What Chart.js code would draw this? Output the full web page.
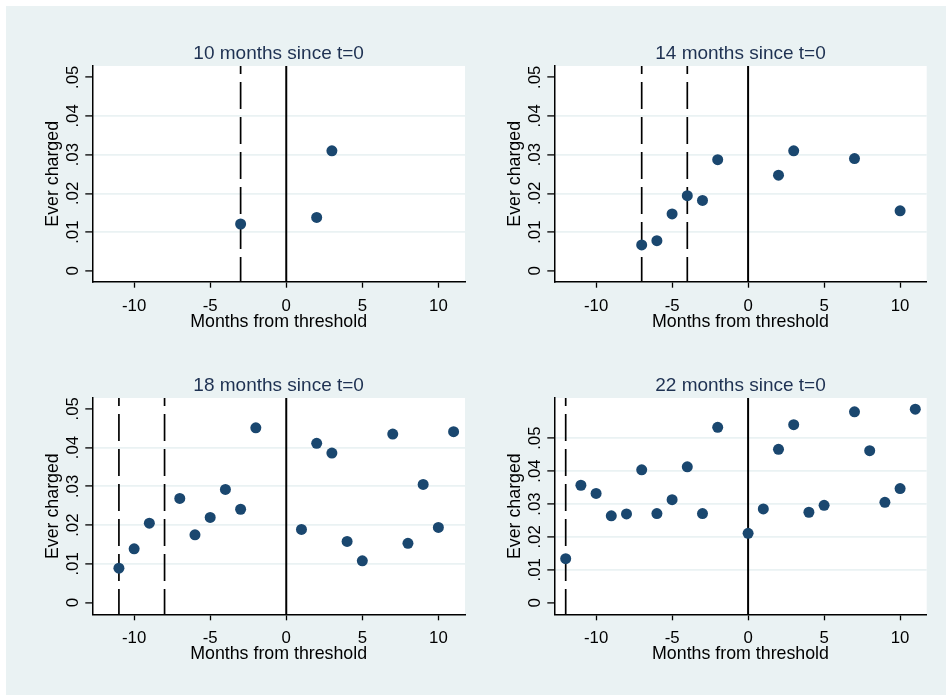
<!DOCTYPE html>
<html lang="en">
<head>
    <meta charset="UTF-8">
    <title>Ever charged by months from threshold</title>
    <script src="https://cdn.jsdelivr.net/npm/chart.js@4.4.1/dist/chart.umd.min.js"></script>
    <style>
        body {
            margin: 0;
            background-color: #fff;
            font-family: "Liberation Sans", Arial, sans-serif;
        }
        .bg {
            position: absolute;
            left: 6px;
            top: 6px;
            width: 940px;
            height: 689px;
            background-color: #eaf2f3;
        }
        .panel {
            position: absolute;
        }
    </style>
    <script>
        // tick values and labels shared by all four panels
        const xTicks = [-10, -5, 0, 5, 10];
        const yTicks = [0, 0.01, 0.02, 0.03, 0.04, 0.05];
        const yTickLabels = ['0', '.01', '.02', '.03', '.04', '.05'];
        const xTitle = 'Months from threshold';
        const yTitle = 'Ever charged';

        // 10 months since t=0
        const months10 = [-3, 2, 3];
        const ever10 = [0.0121, 0.0138, 0.0310];
        const dashed10 = [-3];

        // 14 months since t=0
        const months14 = [-7, -6, -5, -4, -3, -2, 2, 3, 7, 10];
        const ever14 = [0.0067, 0.0078, 0.0147, 0.0194, 0.0182, 0.0287, 0.0247, 0.0310, 0.0290, 0.0155];
        const dashed14 = [-7, -4];

        // 18 months since t=0
        const months18 = [-11, -10, -9, -7, -6, -5, -4, -3, -2, 1, 2, 3, 4, 5, 7, 8, 9, 10, 11];
        const ever18 = [0.0089, 0.0139, 0.0205, 0.0269, 0.0175, 0.0220, 0.0292, 0.0241, 0.0451,
                        0.0189, 0.0411, 0.0386, 0.0158, 0.0108, 0.0435, 0.0153, 0.0305, 0.0194, 0.0441];
        const dashed18 = [-11, -8];

        // 22 months since t=0
        const months22 = [-12, -11, -10, -9, -8, -7, -6, -5, -4, -3, -2, 0, 1, 2, 3, 4, 5, 7, 8, 9, 10, 11];
        const ever22 = [0.0134, 0.0357, 0.0332, 0.0264, 0.0270, 0.0404, 0.0271, 0.0313, 0.0413, 0.0271, 0.0533,
                        0.0211, 0.0285, 0.0466, 0.0541, 0.0275, 0.0296, 0.0580, 0.0462, 0.0305, 0.0347, 0.0588];
        const dashed22 = [-12];
    </script>
</head>
<body>
    <div class="bg"></div>
    <div class="panel" style="left:6px;top:6px;width:470px;height:340px"><canvas id="c10"></canvas></div>
    <div class="panel" style="left:476px;top:6px;width:470px;height:340px"><canvas id="c14"></canvas></div>
    <div class="panel" style="left:6px;top:346px;width:470px;height:349px"><canvas id="c18"></canvas></div>
    <div class="panel" style="left:476px;top:346px;width:470px;height:349px"><canvas id="c22"></canvas></div>

    <script>
        const FONT = '"Liberation Sans", Arial, sans-serif';
        const markerColor = '#1a476f';
        const titleColor = '#1e3152';

        // draws white plot region, titles and stata style rotated y labels
        const stataText = {
            id: 'stataText',
            beforeDraw(chart) {
                const a = chart.chartArea;
                const ctx = chart.ctx;
                ctx.save();
                ctx.fillStyle = '#fff';
                ctx.fillRect(a.left, a.top, a.right - a.left, a.bottom - a.top);
                ctx.restore();
            },
            afterDraw(chart, args, opts) {
                const a = chart.chartArea;
                const ctx = chart.ctx;
                const xs = chart.scales.x;
                const ys = chart.scales.y;
                const cx = (a.left + a.right) / 2;
                const cy = (a.top + a.bottom) / 2;
                ctx.save();

                // panel title
                ctx.fillStyle = titleColor;
                ctx.font = '19px ' + FONT;
                ctx.textAlign = 'center';
                ctx.textBaseline = 'alphabetic';
                ctx.fillText(opts.title, cx, a.top - 7.5);

                // x tick labels and title
                ctx.fillStyle = '#000';
                ctx.font = '16.8px ' + FONT;
                xTicks.forEach(v => {
                    ctx.fillText(String(v).replace('-', '-'), xs.getPixelForValue(v), a.bottom + 29);
                });
                ctx.font = '17.8px ' + FONT;
                ctx.fillText(xTitle, cx, a.bottom + 45);

                // y tick labels, rotated
                ctx.font = '16.8px ' + FONT;
                yTicks.forEach((v, i) => {
                    ctx.save();
                    ctx.translate(a.left - 14, ys.getPixelForValue(v));
                    ctx.rotate(-Math.PI / 2);
                    ctx.fillText(yTickLabels[i], 0, 0);
                    ctx.restore();
                });

                // y title
                ctx.font = '17.8px ' + FONT;
                ctx.translate(a.left - 34.3, cy);
                ctx.rotate(-Math.PI / 2);
                ctx.fillText(yTitle, 0, 0);
                ctx.restore();
            }
        };

        function vline(x, yMin, yMax, dashed) {
            return {
                data: [{x: x, y: yMax}, {x: x, y: yMin}],
                showLine: true,
                borderColor: '#000',
                borderWidth: dashed ? 1.7 : 2,
                borderDash: dashed ? [27, 8] : [],
                borderDashOffset: dashed ? 19 : 0,
                pointRadius: 0,
                fill: false
            };
        }

        function drawPanel(p) {
            const points = p.months.map((m, i) => ({x: m, y: p.values[i]}));
            const datasets = [{
                data: points,
                pointRadius: 5.5,
                pointBackgroundColor: markerColor,
                pointBorderWidth: 0
            }];
            p.dashed.forEach(d => datasets.push(vline(d, p.yMin, p.yMax, true)));
            datasets.push(vline(0, p.yMin, p.yMax, false));

            new Chart(document.getElementById(p.id), {
                type: 'scatter',
                data: {datasets: datasets},
                options: {
                    responsive: true,
                    maintainAspectRatio: false,
                    animation: false,
                    events: [],
                    layout: {
                        padding: {top: p.padTop, right: p.padRight, left: 0, bottom: 0}
                    },
                    plugins: {
                        legend: {display: false},
                        tooltip: {enabled: false},
                        stataText: {title: p.title}
                    },
                    scales: {
                        x: {
                            type: 'linear',
                            min: -12.75,
                            max: 11.75,
                            afterBuildTicks: s => { s.ticks = xTicks.map(v => ({value: v})); },
                            afterFit: s => { s.height = p.axisH; },
                            ticks: {display: false},
                            border: {display: true, color: '#000', width: 1.5},
                            grid: {
                                drawOnChartArea: false,
                                drawTicks: true,
                                tickLength: 6,
                                tickColor: '#000',
                                tickWidth: 1.3
                            }
                        },
                        y: {
                            type: 'linear',
                            min: p.yMin,
                            max: p.yMax,
                            afterBuildTicks: s => { s.ticks = yTicks.map(v => ({value: v})); },
                            afterFit: s => { s.width = p.axisW; },
                            ticks: {display: false},
                            border: {display: true, color: '#000', width: 1.5},
                            grid: {
                                color: c => (c.tick && c.tick.value > 0 && c.tick.value <= p.gridTop) ? '#eaf2f3' : 'rgba(0,0,0,0)',
                                lineWidth: 1.8,
                                drawTicks: true,
                                tickLength: 7,
                                tickColor: '#000',
                                tickWidth: 1.3
                            }
                        }
                    }
                },
                plugins: [stataText]
            });
        }

        window.onload = function() {
            drawPanel({id: 'c10', title: '10 months since t=0', months: months10, values: ever10, dashed: dashed10,
                       yMin: -0.0028, yMax: 0.0529, gridTop: 0.045, padTop: 60, padRight: 11, axisW: 86.3, axisH: 64.3});
            drawPanel({id: 'c14', title: '14 months since t=0', months: months14, values: ever14, dashed: dashed14,
                       yMin: -0.0028, yMax: 0.0529, gridTop: 0.045, padTop: 60, padRight: 19.3, axisW: 78.3, axisH: 64.3});
            drawPanel({id: 'c18', title: '18 months since t=0', months: months18, values: ever18, dashed: dashed18,
                       yMin: -0.003, yMax: 0.0528, gridTop: 0.045, padTop: 52, padRight: 11, axisW: 86.3, axisH: 80.7});
            drawPanel({id: 'c22', title: '22 months since t=0', months: months22, values: ever22, dashed: dashed22,
                       yMin: -0.0035, yMax: 0.0622, gridTop: 0.055, padTop: 52, padRight: 19.3, axisW: 78.3, axisH: 80.7});
        };
    </script>
</body>
</html>
